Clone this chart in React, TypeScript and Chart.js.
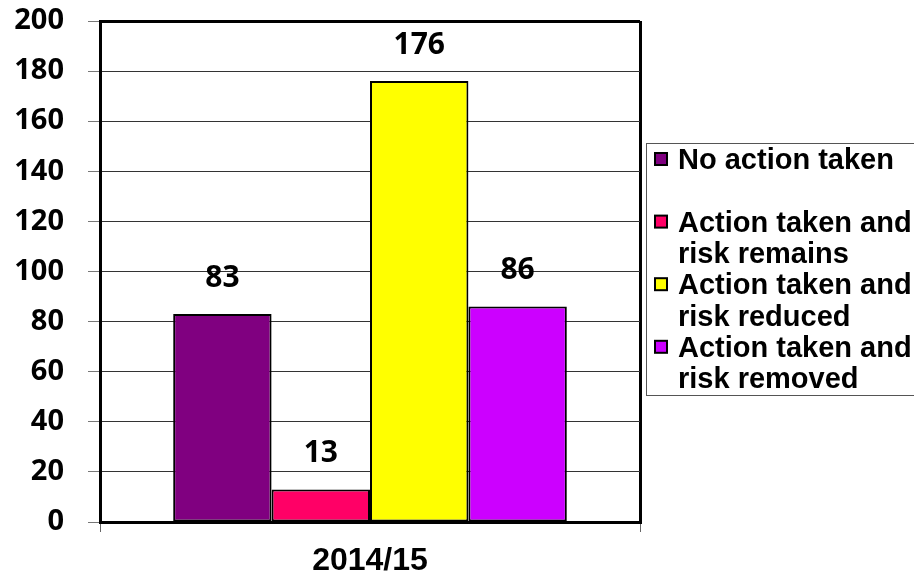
import React, { useEffect, useRef } from "react";
import { Chart, registerables } from "chart.js";

Chart.register(...registerables);

const categories: string[] = ["2014/15"];
const seriesNames: string[][] = [
  ["No action taken"],
  ["Action taken and", "risk remains"],
  ["Action taken and", "risk reduced"],
  ["Action taken and", "risk removed"],
];
const noActionTaken: number[] = [83];
const riskRemains: number[] = [13];
const riskReduced: number[] = [176];
const riskRemoved: number[] = [86];
const seriesColors: string[] = ["#800080", "#FF0066", "#FFFF00", "#CC00FF"];
const yMin = 0;
const yMax = 200;
const yStep = 20;

const dataLabelPlugin = {
  id: "dataLabels",
  afterDatasetsDraw(chart: any) {
    const ctx = chart.ctx;
    ctx.save();
    ctx.font = '700 30px "Open Sans"';
    ctx.fillStyle = "#000";
    ctx.textAlign = "center";
    ctx.textBaseline = "middle";
    chart.data.datasets.forEach((ds: any, i: number) => {
      const meta = chart.getDatasetMeta(i);
      meta.data.forEach((el: any, j: number) => {
        ctx.fillText(String(ds.data[j]), el.x, el.y - 36);
      });
    });
    ctx.restore();
  },
};

const boxLegendPlugin = {
  id: "boxLegend",
  afterDraw(chart: any) {
    const ctx = chart.ctx;
    const area = chart.chartArea;
    const boxX = area.right + 6;
    const boxY = 143;
    const boxH = 252;
    const lineStep = 31.3;
    const firstBaseline = boxY + 26;
    ctx.save();
    ctx.strokeStyle = "#555";
    ctx.lineWidth = 1;
    ctx.strokeRect(boxX + 0.5, boxY + 0.5, 400, boxH);
    ctx.font = 'bold 29px "Liberation Sans"';
    ctx.textAlign = "left";
    ctx.textBaseline = "alphabetic";
    chart.data.datasets.forEach((ds: any, i: number) => {
      const lines: string[] = seriesNames[i];
      const base = firstBaseline + i * 2 * lineStep;
      ctx.fillStyle = ds.backgroundColor;
      ctx.fillRect(boxX + 9, base - 16, 12, 12);
      ctx.strokeStyle = "#000";
      ctx.lineWidth = 2;
      ctx.strokeRect(boxX + 9, base - 16, 12, 12);
      ctx.fillStyle = "#000";
      lines.forEach((t, k) => {
        ctx.fillText(t, boxX + 32, base + k * lineStep);
      });
    });
    ctx.restore();
  },
};

export default function App() {
  const canvasRef = useRef<HTMLCanvasElement | null>(null);

  useEffect(() => {
    document.body.style.margin = "0";
    const canvas = canvasRef.current;
    if (!canvas) return;
    const values = [noActionTaken, riskRemains, riskReduced, riskRemoved];
    const chart = new Chart(canvas, {
      type: "bar",
      data: {
        labels: categories,
        datasets: values.map((v, i) => ({
          label: seriesNames[i].join(" "),
          data: v,
          backgroundColor: seriesColors[i],
          borderColor: "#000",
          borderWidth: 2,
          borderSkipped: false,
          categoryPercentage: 0.729,
          barPercentage: 1,
        })),
      },
      options: {
        responsive: false,
        animation: false,
        layout: { padding: { top: 21, right: 274, left: 0, bottom: 0 } },
        plugins: {
          legend: { display: false },
          tooltip: { enabled: false },
          title: { display: false },
        },
        scales: {
          x: {
            offset: true,
            grid: {
              display: true,
              offset: true,
              color: "#000",
              lineWidth: 3,
              tickLength: 10,
              tickColor: "#666",
              tickWidth: 1,
            },
            border: { display: true, color: "#000", width: 3 },
            ticks: {
              color: "#000",
              font: { family: "Liberation Sans", size: 32, weight: "bold" },
              padding: 10,
            },
            afterFit: (scale: any) => {
              scale.height = 55;
              scale.paddingLeft = 0;
              scale.paddingRight = 0;
            },
          },
          y: {
            min: yMin,
            max: yMax,
            ticks: {
              stepSize: yStep,
              color: "#000",
              font: { family: "Open Sans", size: 29, weight: "bold" },
              padding: 24,
            },
            grid: {
              color: (c: any) => (c.tick && c.tick.value === yMax ? "#000" : "#333"),
              lineWidth: (c: any) => (c.tick && c.tick.value === yMax ? 3 : 1),
              tickLength: 12,
              tickColor: "#777",
              tickWidth: 1,
            },
            border: { display: true, color: "#000", width: 3 },
            afterFit: (scale: any) => {
              scale.width = 100;
              scale.paddingTop = 0;
              scale.paddingBottom = 0;
            },
          },
        },
      },
      plugins: [dataLabelPlugin, boxLegendPlugin],
    });
    return () => chart.destroy();
  }, []);

  return (
    <div style={{ width: 914, height: 577, background: "#fff" }}>
      <canvas ref={canvasRef} width={914} height={577} />
    </div>
  );
}
